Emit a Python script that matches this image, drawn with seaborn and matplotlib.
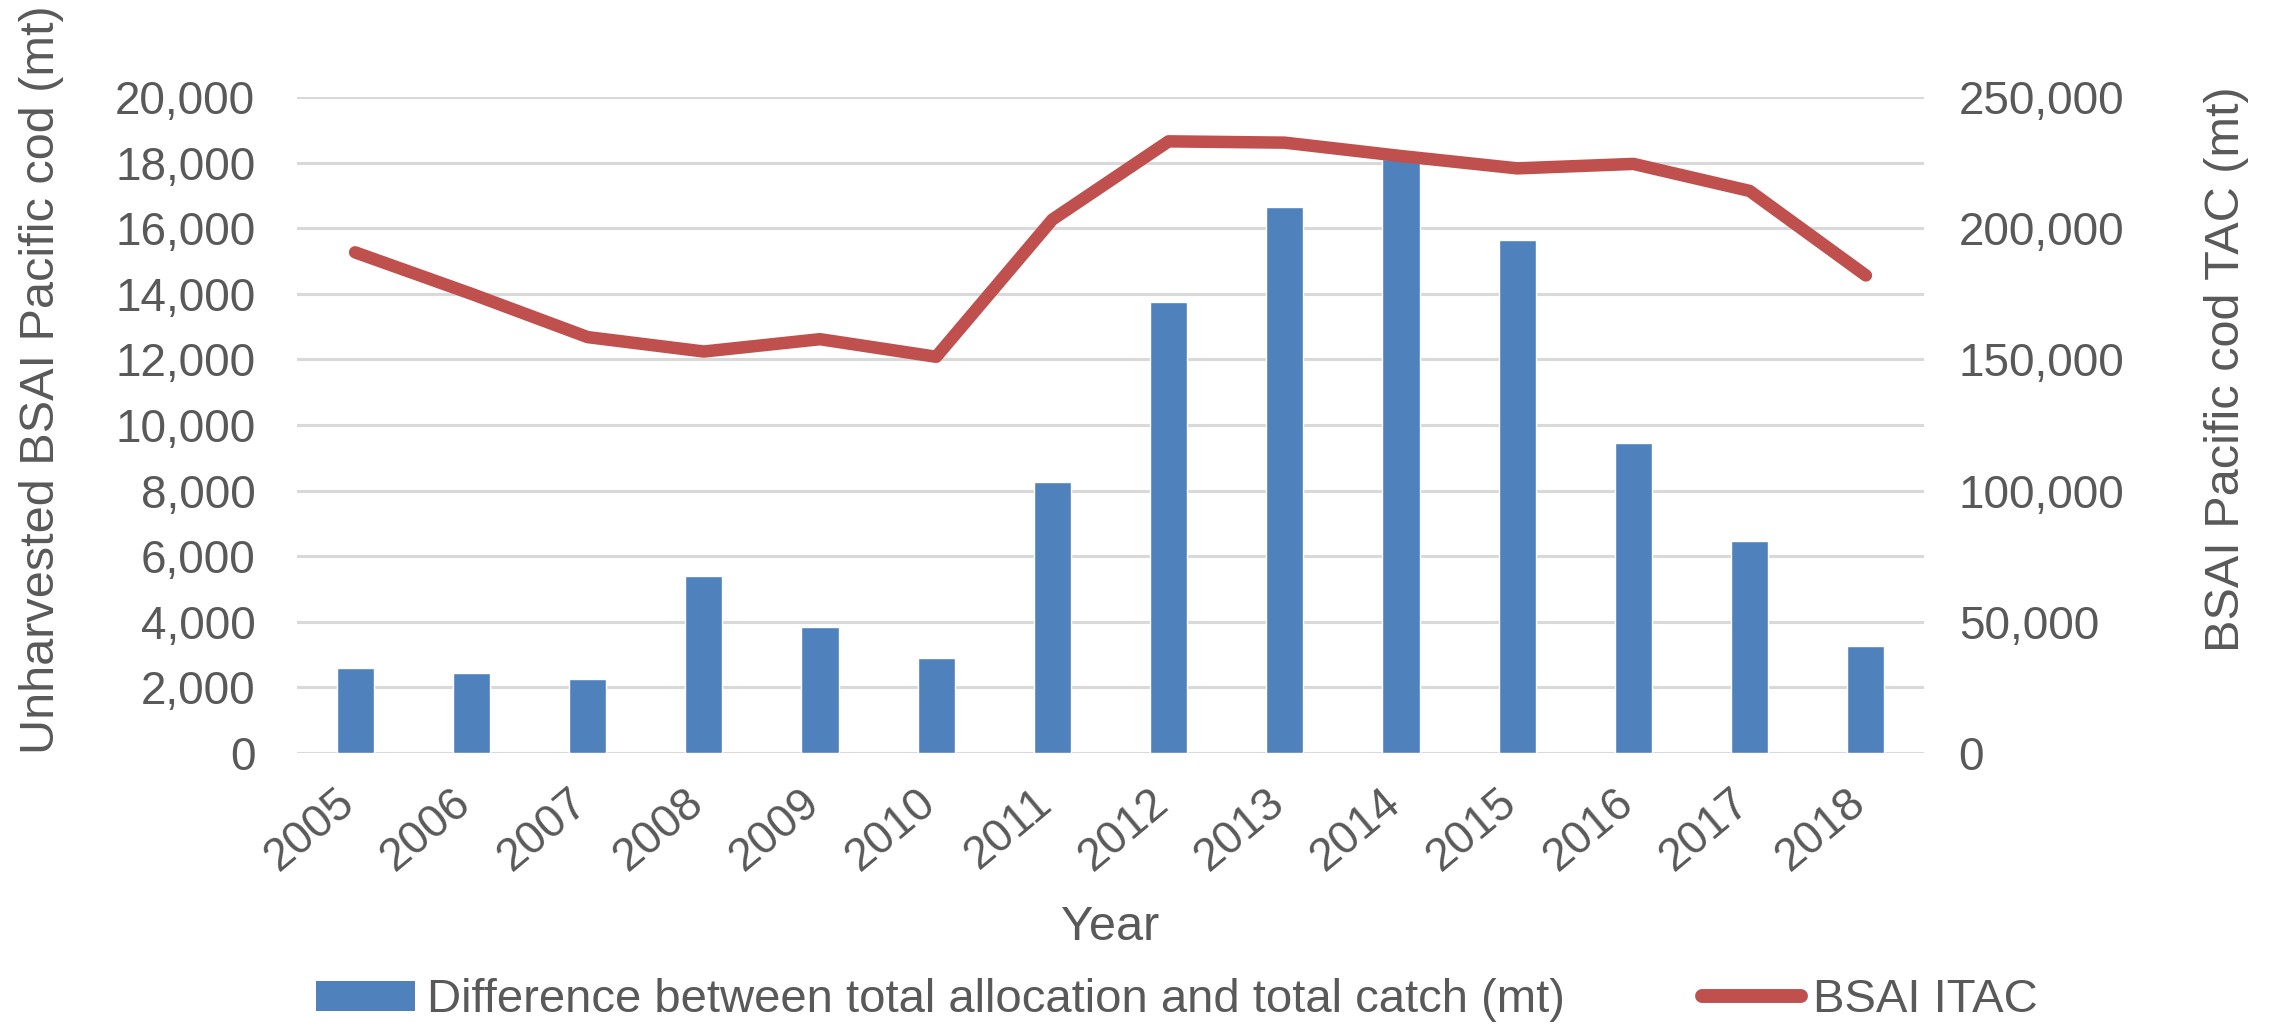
import numpy as np
import pandas as pd
import matplotlib
matplotlib.use("Agg")
import matplotlib.pyplot as plt
import matplotlib.transforms as mtransforms
import seaborn as sns
from matplotlib.patches import Patch
from matplotlib.lines import Line2D
from matplotlib.ticker import FuncFormatter, MultipleLocator

# Data
years = [str(y) for y in range(2005, 2019)]
unharvested_mt = [2600, 2450, 2250, 5400, 3850, 2900, 8250, 13750, 16650, 18100, 15650, 9450, 6450, 3250]
itac_mt = [190800, 175000, 158500, 153000, 157700, 151000, 203300, 233100, 232600, 227500, 222800, 224500, 214200, 182000]

bar_label = "Difference between total allocation and total catch (mt)"
line_label = "BSAI ITAC"

BLUE = "#4F81BD"
RED = "#C0504D"
GRID = "#D9D9D9"
TEXT = "#595959"

sns.set_theme(style="white")
plt.rcParams["font.family"] = ["Liberation Sans", "DejaVu Sans"]
FS_TICK = 33
FS_LABEL = 35
FS_LEG = 34

df = pd.DataFrame({"year": years, "diff": unharvested_mt, "itac": itac_mt})
df["pos"] = np.arange(len(df))

fig = plt.figure(figsize=(22.72, 10.28), dpi=100)
ax = fig.add_axes([297 / 2272, 1 - 753 / 1028, (1924 - 297) / 2272, (753 - 97) / 1028])

sns.barplot(data=df, x="year", y="diff", color=BLUE, saturation=1, width=0.32, ax=ax, zorder=2)
ax.set_xlim(-0.5, len(years) - 0.5)
ax.set_ylim(0, 20000)
ax.yaxis.set_major_locator(MultipleLocator(2000))
ax.yaxis.set_major_formatter(FuncFormatter(lambda v, p: f"{int(v):,}"))
ax.grid(axis="y", color=GRID, linewidth=2.2, zorder=0)
ax.set_axisbelow(True)
for s in ax.spines.values():
    s.set_visible(False)
ax.tick_params(axis="y", length=0, pad=30, labelsize=FS_TICK, labelcolor=TEXT)
ax.tick_params(axis="x", length=0, pad=14, labelsize=FS_TICK, labelcolor=TEXT)
shift = mtransforms.ScaledTranslation(-20 / 100, -8 / 100, fig.dpi_scale_trans)
for lab in ax.get_xticklabels():
    lab.set_rotation(40)
    lab.set_ha("right")
    lab.set_rotation_mode("anchor")
    lab.set_transform(lab.get_transform() + shift)
ax.set_xlabel("Year", fontsize=FS_LABEL, color=TEXT, labelpad=18)
ax.set_ylabel("Unharvested BSAI Pacific cod (mt)", fontsize=FS_LABEL, color=TEXT)
ax.yaxis.set_label_coords(-0.143, 0.569)

ax2 = ax.twinx()
sns.lineplot(data=df, x="pos", y="itac", color=RED, linewidth=9, ax=ax2, zorder=3)
ax2.set_ylim(0, 250000)
ax2.yaxis.set_major_locator(MultipleLocator(50000))
ax2.yaxis.set_major_formatter(FuncFormatter(lambda v, p: f"{int(v):,}"))
ax2.grid(False)
for s in ax2.spines.values():
    s.set_visible(False)
ax2.tick_params(axis="y", length=0, pad=25, labelsize=FS_TICK, labelcolor=TEXT)
ax2.set_ylabel("BSAI Pacific cod TAC (mt)", fontsize=FS_LABEL, color=TEXT, rotation=90)
ax2.yaxis.set_label_coords(1.172, 0.585)
ax2.set_xlabel("")

handles = [
    Patch(facecolor=BLUE, edgecolor="none"),
    Line2D([0], [0], color=RED, linewidth=10, solid_capstyle="round"),
]
fig.legend(handles, [bar_label, line_label], loc="center", bbox_to_anchor=(0.518, 0.027),
           ncol=2, frameon=False, fontsize=FS_LEG, labelcolor=TEXT, handlelength=2.1,
           handleheight=0.6, handletextpad=0.25, columnspacing=2.9)

fig.savefig("out.png", dpi=100)
